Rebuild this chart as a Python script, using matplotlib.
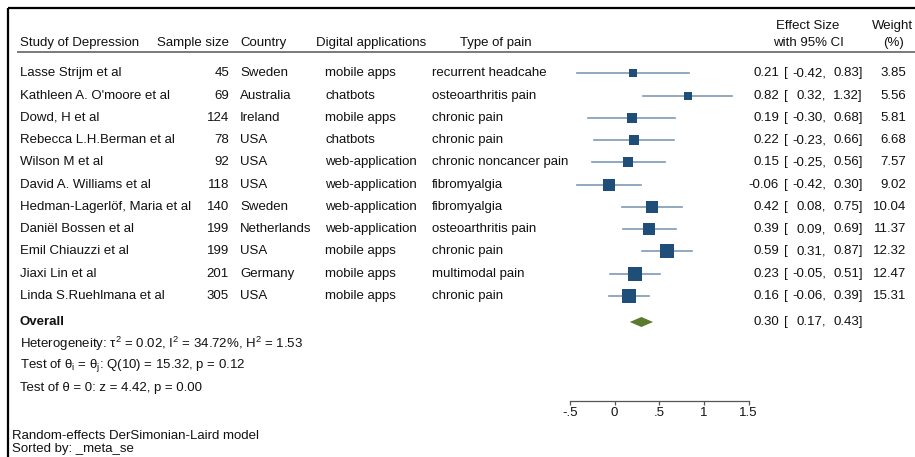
import matplotlib
matplotlib.use("Agg")
import matplotlib.pyplot as plt
import numpy as np

plt.rcParams["font.family"] = ["Liberation Sans", "DejaVu Sans"]
plt.rcParams["mathtext.fontset"] = "custom"
plt.rcParams["mathtext.rm"] = "Liberation Sans"
plt.rcParams["mathtext.it"] = "Liberation Sans:italic"

# ── data ─────────────────────────────────────────────────────────────────────
studies = ["Lasse Strijm et al", "Kathleen A. O'moore et al", "Dowd, H et al",
           "Rebecca L.H.Berman et al", "Wilson M et al", "David A. Williams et al",
           "Hedman-Lagerlöf, Maria et al", "Daniël Bossen et al",
           "Emil Chiauzzi et al", "Jiaxi Lin et al", "Linda S.Ruehlmana et al"]
sample_size = [45, 69, 124, 78, 92, 118, 140, 199, 199, 201, 305]
country = ["Sweden", "Australia", "Ireland", "USA", "USA", "USA", "Sweden",
           "Netherlands", "USA", "Germany", "USA"]
application = ["mobile apps", "chatbots", "mobile apps", "chatbots",
               "web-application", "web-application", "web-application",
               "web-application", "mobile apps", "mobile apps", "mobile apps"]
pain_type = ["recurrent headcahe", "osteoarthritis pain", "chronic pain",
             "chronic pain", "chronic noncancer pain", "fibromyalgia",
             "fibromyalgia", "osteoarthritis pain", "chronic pain",
             "multimodal pain", "chronic pain"]
effect = [0.21, 0.82, 0.19, 0.22, 0.15, -0.06, 0.42, 0.39, 0.59, 0.23, 0.16]
ci_lo = [-0.42, 0.32, -0.30, -0.23, -0.25, -0.42, 0.08, 0.09, 0.31, -0.05, -0.06]
ci_hi = [0.83, 1.32, 0.68, 0.66, 0.56, 0.30, 0.75, 0.69, 0.87, 0.51, 0.39]
weight = [3.85, 5.56, 5.81, 6.68, 7.57, 9.02, 10.04, 11.37, 12.32, 12.47, 15.31]

overall_est, overall_lo, overall_hi = 0.30, 0.17, 0.43
heterogeneity = r"Heterogeneity: τ$^2$ = 0.02, I$^2$ = 34.72%, H$^2$ = 1.53"
test_q = r"Test of θ$_\mathrm{i}$ = θ$_\mathrm{j}$: Q(10) = 15.32, p = 0.12"
test_z = "Test of θ = 0: z = 4.42, p = 0.00"
footer = ["Random-effects DerSimonian-Laird model", "Sorted by: _meta_se"]

xticks = [-0.5, 0, 0.5, 1, 1.5]
xtick_labels = ["-.5", "0", ".5", "1", "1.5"]

# ── layout (pixel units) ─────────────────────────────────────────────────────
W, H = 915, 457
FS = 9.5
TXT = "#111111"
SQ = "#1f4e79"
CI = "#7f9ab4"
DIAMOND = "#5a7a2c"

fig = plt.figure(figsize=(W / 100, H / 100), dpi=100)
pg = fig.add_axes([0, 0, 1, 1])
pg.set_xlim(0, W)
pg.set_ylim(H, 0)
pg.axis("off")

# forest panel: x in effect units, y shares page pixels
fx = fig.add_axes([570 / W, 0, 178.5 / W, 1])
fx.set_xlim(-0.5, 1.5)
fx.set_ylim(H, 0)
fx.patch.set_visible(False)

row_y = 73.3 + 22.27 * np.arange(len(studies))
y_overall = 322
y_notes = [344, 366, 388]


def ci_text(y, est, lo, hi):
    # Stata-style fixed columns: est [ lo, hi]
    pg.text(779, y, f"{est:.2f}", ha="right", **kw)
    pg.text(784, y, "[", ha="left", **kw)
    pg.text(826, y, f"{lo:.2f},", ha="right", **kw)
    pg.text(863, y, f"{hi:.2f}]", ha="right", **kw)


# frame + header rule
pg.plot([8, 8], [H, 8], color="black", lw=1.6, solid_capstyle="butt")
pg.plot([8, W], [8, 8], color="black", lw=1.6, solid_capstyle="butt")
pg.plot([18, W], [52, 52], color="#7a7a7a", lw=1.4)

kw = dict(fontsize=FS, color=TXT, va="center")
pg.text(20, 43, "Study of Depression", ha="left", **kw)
pg.text(229, 43, "Sample size", ha="right", **kw)
pg.text(240, 43, "Country", ha="left", **kw)
pg.text(316, 43, "Digital applications", ha="left", **kw)
pg.text(460, 43, "Type of pain", ha="left", **kw)
pg.text(808, 26, "Effect Size", ha="center", **kw)
pg.text(808, 43, "with 95% CI", ha="center", **kw)
pg.text(893, 26, "Weight", ha="center", **kw)
pg.text(893, 43, "(%)", ha="center", **kw)

for i, y in enumerate(row_y):
    pg.text(20, y, studies[i], ha="left", **kw)
    pg.text(229, y, str(sample_size[i]), ha="right", **kw)
    pg.text(240, y, country[i], ha="left", **kw)
    pg.text(325, y, application[i], ha="left", **kw)
    pg.text(432, y, pain_type[i], ha="left", **kw)
    ci_text(y, effect[i], ci_lo[i], ci_hi[i])
    pg.text(906, y, f"{weight[i]:.2f}", ha="right", **kw)

    fx.plot([ci_lo[i], ci_hi[i]], [y, y], color=CI, lw=1.2, zorder=2)
    fx.plot(effect[i], y, marker="s", ms=2.74 * np.sqrt(weight[i]),
            color=SQ, mew=0, zorder=3)

pg.text(20, y_overall, "Overall", ha="left", fontweight="bold", **kw)
ci_text(y_overall, overall_est, overall_lo, overall_hi)
fx.fill([overall_lo, overall_est, overall_hi, overall_est],
        [y_overall, y_overall - 5, y_overall, y_overall + 5],
        color=DIAMOND, lw=0, zorder=3)

for y, s in zip(y_notes, [heterogeneity, test_q, test_z]):
    pg.text(20, y, s, ha="left", **kw)

pg.text(12, 436, footer[0], ha="left", **kw)
pg.text(12, 449, footer[1], ha="left", **kw)

# x axis of the forest panel
for side in ["top", "left", "right"]:
    fx.spines[side].set_visible(False)
fx.spines["bottom"].set_position(("data", 401))
fx.spines["bottom"].set_color("#555555")
fx.spines["bottom"].set_linewidth(0.9)
fx.set_xticks(xticks)
fx.set_xticklabels(xtick_labels)
fx.tick_params(axis="x", direction="out", length=3, width=0.9, color="#555555",
               pad=1.5, labelsize=FS, labelcolor=TXT)
fx.set_yticks([])

fig.savefig("out.png", dpi=100)
